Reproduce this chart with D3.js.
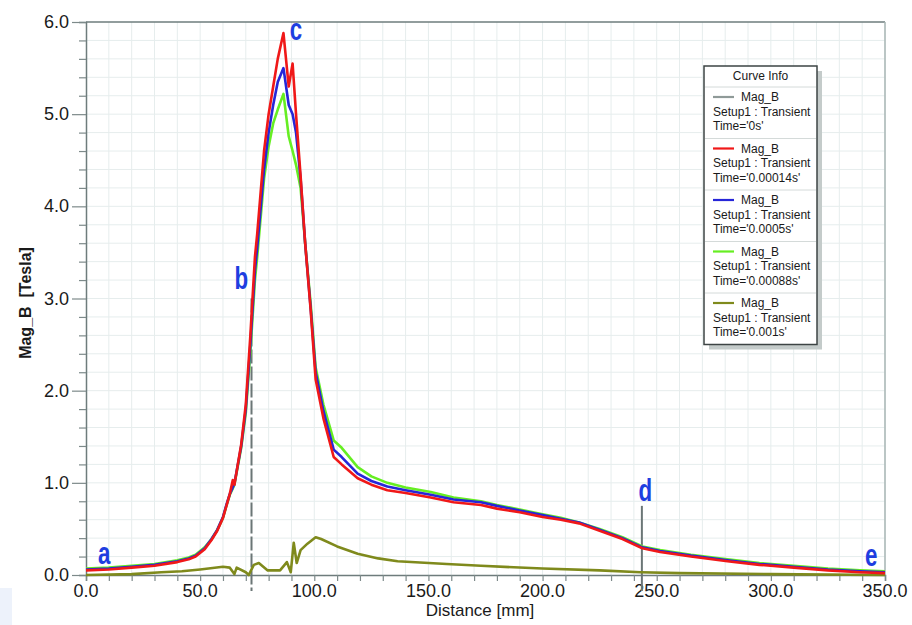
<!DOCTYPE html>
<html>
<head>
<meta charset="utf-8">
<script src="https://cdn.jsdelivr.net/npm/d3@7"></script>
<style>
  body { margin: 0; background: #fff; }
  svg { display: block; }
</style>
</head>
<body>
<div class="chart"></div>
<script>
// distances [mm] shared by the three upper curves
const distance = [0, 10, 20, 30, 40, 45, 48, 52, 55, 57.5, 60, 61.5, 63, 64.3, 65, 68, 70, 72, 74, 75, 78, 80, 82, 84,
  86.5, 88.8, 90.5, 92, 94, 96, 98.4, 100.6, 104, 108.5, 112, 119, 125, 132, 140, 151, 161, 173,
  180, 190, 200, 208, 216, 225, 235, 243.7, 251.5, 265, 281, 295, 310, 325, 339, 350];

const magB_00014 = [0.05, 0.06, 0.08, 0.1, 0.14, 0.17, 0.2, 0.28, 0.38, 0.48, 0.62, 0.75, 0.88, 1.03, 0.98, 1.42, 1.85, 2.6, 3.45, 3.7, 4.6, 5.0, 5.3, 5.6,
  5.88, 5.3, 5.55, 5.0, 4.33, 3.6, 2.88, 2.12, 1.7, 1.28, 1.2, 1.05, 0.98, 0.92, 0.89, 0.84, 0.79, 0.76,
  0.72, 0.68, 0.63, 0.6, 0.56, 0.48, 0.39, 0.29, 0.25, 0.2, 0.15, 0.11, 0.08, 0.05, 0.03, 0.02];

const magB_0005 = [0.06, 0.07, 0.09, 0.11, 0.15, 0.18, 0.21, 0.29, 0.39, 0.49, 0.63, 0.76, 0.88, 0.95, 0.99, 1.4, 1.8, 2.5, 3.3, 3.55, 4.4, 4.8, 5.1, 5.35,
  5.5, 5.1, 5.0, 4.8, 4.3, 3.6, 2.9, 2.2, 1.78, 1.36, 1.28, 1.1, 1.02, 0.96, 0.92, 0.87, 0.82, 0.79,
  0.75, 0.7, 0.65, 0.61, 0.57, 0.49, 0.4, 0.3, 0.26, 0.21, 0.16, 0.12, 0.09, 0.06, 0.04, 0.03];

const magB_00088 = [0.07, 0.08, 0.1, 0.12, 0.16, 0.19, 0.22, 0.3, 0.39, 0.49, 0.62, 0.75, 0.87, 0.94, 0.98, 1.38, 1.76, 2.42, 3.2, 3.45, 4.3, 4.65, 4.9, 5.05,
  5.22, 4.76, 4.6, 4.45, 4.2, 3.6, 2.95, 2.25, 1.85, 1.46, 1.38, 1.17, 1.07, 1.0, 0.95, 0.9, 0.84, 0.8,
  0.76, 0.71, 0.66, 0.62, 0.57, 0.5, 0.41, 0.31, 0.27, 0.22, 0.17, 0.13, 0.1, 0.07, 0.05, 0.04];

// the 0.001s curve has its own sampling
const distance_001 = [0, 20, 33, 42, 50, 60, 63, 65, 66, 70, 71.3, 73.5, 75.7, 79.6, 85, 88, 89.7, 91, 92.3, 94, 97,
  100.6, 103, 110, 119, 128, 136.5, 158, 173, 200, 225, 243, 260, 300, 350];
const magB_001 = [0.0, 0.01, 0.03, 0.04, 0.06, 0.09, 0.08, 0.01, 0.08, 0.03, 0.0, 0.11, 0.13, 0.05, 0.05, 0.14, 0.03, 0.35, 0.13, 0.27, 0.34,
  0.41, 0.39, 0.31, 0.23, 0.18, 0.15, 0.12, 0.1, 0.07, 0.05, 0.03, 0.02, 0.01, 0.0];

const legendTimes = ["0s", "0.00014s", "0.0005s", "0.00088s", "0.001s"];
const legendColors = ["#8f9a98", "#f01818", "#2626d8", "#66ee22", "#7f8a1c"];

const xTicks = [0, 50, 100, 150, 200, 250, 300, 350];
const yTicks = [0, 1, 2, 3, 4, 5, 6];

// point markers a..e : distance and value where the letter sits
const markers = [
  { label: "a", x: 8, y: 0.12 },
  { label: "b", x: 68, y: 3.1 },
  { label: "c", x: 92, y: 5.8 },
  { label: "d", x: 245, y: 0.8 },
  { label: "e", x: 344, y: 0.1 }
];

const width = 912, height = 625;
const mLeft = 86, mRight = 885, mTop = 22, mBottom = 575;
const sans = "'Liberation Sans', Arial, sans-serif";

const svg = d3.select(".chart").append("svg")
  .attr("width", width)
  .attr("height", height);

const x = d3.scaleLinear().domain([0, 350]).range([mLeft, mRight]);
const y = d3.scaleLinear().domain([0, 6]).range([mBottom, mTop]);

// faint artifact box at lower left
svg.append("rect")
  .attr("x", 0).attr("y", 588).attr("width", 12).attr("height", 37)
  .attr("fill", "#edf2fb");

// grid
svg.append("g").selectAll("line")
  .data(d3.range(10, 351, 10))
  .join("line")
  .attr("x1", d => x(d)).attr("x2", d => x(d))
  .attr("y1", mTop).attr("y2", mBottom)
  .attr("stroke", "#e6eded").attr("stroke-width", 1);
svg.append("g").selectAll("line")
  .data(d3.range(1, 30).map(d => d * 0.2))
  .join("line")
  .attr("x1", mLeft).attr("x2", mRight)
  .attr("y1", d => y(d)).attr("y2", d => y(d))
  .attr("stroke", "#e6eded").attr("stroke-width", 1);

// frame top / right
svg.append("line").attr("x1", mLeft).attr("x2", mRight).attr("y1", mTop).attr("y2", mTop)
  .attr("stroke", "#6e7c7c").attr("stroke-width", 1.5);
svg.append("line").attr("x1", mRight).attr("x2", mRight).attr("y1", mTop).attr("y2", mBottom)
  .attr("stroke", "#a9b6b4").attr("stroke-width", 1.5);

// axes
const xAxis = svg.append("g")
  .attr("transform", `translate(0,${mBottom})`)
  .call(d3.axisBottom(x).tickValues(d3.range(0, 351, 10)).tickSize(6).tickFormat(""));
const yAxis = svg.append("g")
  .attr("transform", `translate(${mLeft},0)`)
  .call(d3.axisLeft(y).tickValues(d3.range(0, 31).map(d => d * 0.2)).tickSize(7).tickFormat(""));
yAxis.selectAll(".tick line")
  .filter(d => Math.abs(d - Math.round(d)) < 1e-6)
  .attr("x2", -14);
[xAxis, yAxis].forEach(g => {
  g.select(".domain").attr("stroke", "#6e7c7c").attr("stroke-width", 1.5);
  g.selectAll(".tick line").attr("stroke", "#7d8a8a").attr("stroke-width", 1.2);
});

svg.append("g").selectAll("text")
  .data(xTicks)
  .join("text")
  .attr("x", d => x(d))
  .attr("y", mBottom + 22)
  .attr("text-anchor", "middle")
  .attr("font-family", sans)
  .attr("font-size", 18)
  .attr("fill", "#1a1a1a")
  .text(d => d.toFixed(1));
svg.append("g").selectAll("text")
  .data(yTicks)
  .join("text")
  .attr("x", mLeft - 17)
  .attr("y", d => y(d) + 6)
  .attr("text-anchor", "end")
  .attr("font-family", sans)
  .attr("font-size", 18)
  .attr("fill", "#1a1a1a")
  .text(d => d.toFixed(1));

svg.append("text")
  .attr("x", 480).attr("y", 616)
  .attr("text-anchor", "middle")
  .attr("font-family", sans)
  .attr("font-size", 17)
  .attr("fill", "#1a1a1a")
  .text("Distance [mm]");
svg.append("text")
  .attr("transform", "translate(31,303) rotate(-90)")
  .attr("text-anchor", "middle")
  .attr("font-family", sans)
  .attr("font-weight", "bold")
  .attr("font-size", 16)
  .attr("fill", "#1a1a1a")
  .attr("xml:space", "preserve")
  .text("Mag_B  [Tesla]");

// vertical markers at b and d
svg.append("line")
  .attr("x1", x(72.5)).attr("x2", x(72.5))
  .attr("y1", y(3.0)).attr("y2", mBottom + 16)
  .attr("stroke", "#6b7676").attr("stroke-width", 2)
  .attr("stroke-dasharray", "14,3");
svg.append("line")
  .attr("x1", x(243.5)).attr("x2", x(243.5))
  .attr("y1", y(0.75)).attr("y2", mBottom + 16)
  .attr("stroke", "#6b7676").attr("stroke-width", 2);

// curves
const line = d3.line()
  .x(d => x(d[0]))
  .y(d => y(d[1]));

const curves = [
  { xs: distance_001, ys: magB_001, color: legendColors[4] },
  { xs: distance, ys: magB_00088, color: legendColors[3] },
  { xs: distance, ys: magB_0005, color: legendColors[2] },
  { xs: distance, ys: magB_00014, color: legendColors[1] }
];
curves.forEach(c => {
  svg.append("path")
    .datum(c.xs.map((d, i) => [d, c.ys[i]]))
    .attr("d", line)
    .attr("fill", "none")
    .attr("stroke", c.color)
    .attr("stroke-width", 2.6)
    .attr("stroke-linejoin", "round");
});

// marker letters, condensed bold
svg.append("g").selectAll("text")
  .data(markers)
  .join("text")
  .attr("transform", d => `translate(${x(d.x)},${y(d.y)}) scale(0.72,1)`)
  .attr("text-anchor", "middle")
  .attr("font-family", sans)
  .attr("font-weight", "bold")
  .attr("font-size", 31)
  .attr("fill", "#1e3ee0")
  .text(d => d.label);

// legend
const lg = svg.append("g").attr("transform", "translate(704,66)");
const lgW = 113, headH = 21, rowH = 51.5;
const lgH = headH + rowH * legendTimes.length;
lg.append("rect")
  .attr("x", 5).attr("y", 5).attr("width", lgW).attr("height", lgH)
  .attr("fill", "#c4cbca");
lg.append("rect")
  .attr("width", lgW).attr("height", lgH)
  .attr("fill", "#fff")
  .attr("stroke", "#3d4444").attr("stroke-width", 1.5);
lg.append("text")
  .attr("x", lgW / 2).attr("y", 14)
  .attr("text-anchor", "middle")
  .attr("font-family", sans)
  .attr("font-size", 12)
  .attr("fill", "#1a1a1a")
  .text("Curve Info");
legendTimes.forEach((t, i) => {
  const g = lg.append("g").attr("transform", `translate(0,${headH + i * rowH})`);
  g.append("line")
    .attr("x1", 1).attr("x2", lgW - 1).attr("y1", 0).attr("y2", 0)
    .attr("stroke", "#d4dad9").attr("stroke-width", 1);
  g.append("line")
    .attr("x1", 9).attr("x2", 30).attr("y1", 10).attr("y2", 10)
    .attr("stroke", legendColors[i]).attr("stroke-width", 2.2);
  const lines = ["Mag_B", "Setup1 : Transient", `Time='${t}'`];
  lines.forEach((s, j) => {
    g.append("text")
      .attr("x", j === 0 ? 37 : 9)
      .attr("y", 14 + j * 14.5)
      .attr("font-family", sans)
      .attr("font-size", 12)
      .attr("fill", "#1a1a1a")
      .text(s);
  });
});
</script>
</body>
</html>
